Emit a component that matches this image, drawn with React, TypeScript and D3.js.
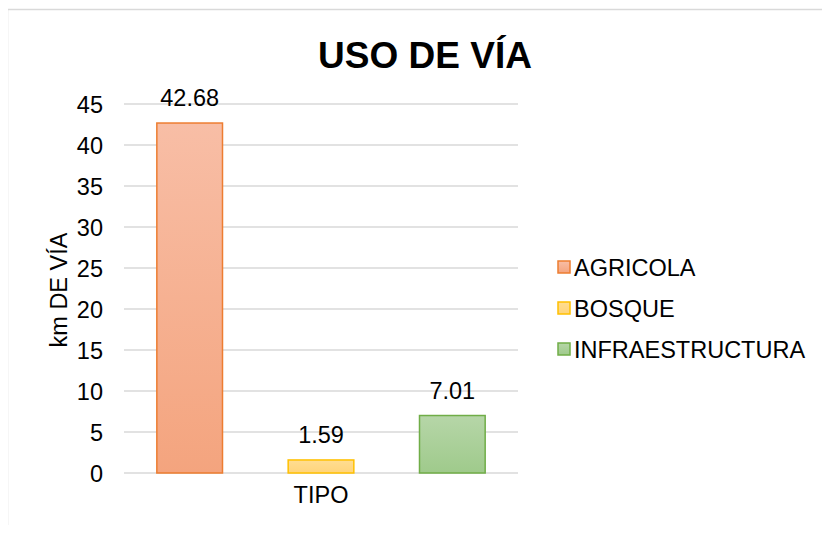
import React from "react";
import * as d3 from "d3";

const title = "USO DE VÍA";
const categories = ["AGRICOLA", "BOSQUE", "INFRAESTRUCTURA"];
const values = [42.68, 1.59, 7.01];
const yTicks = [0, 5, 10, 15, 20, 25, 30, 35, 40, 45];
const xAxisTitle = "TIPO";
const yAxisTitle = "km DE VÍA";

const fillTop = ["#F8BEA6", "#FFDD92", "#B6D6A8"];
const fillBottom = ["#F4A47E", "#FFD47A", "#9FCA8B"];
const strokes = ["#ED7D31", "#FFC000", "#70AD47"];

export default function App() {
  const W = 830, H = 533;
  const left = 124, right = 518, top = 104, bottom = 473;
  const font = "Liberation Sans, Arial, sans-serif";

  const y = d3.scaleLinear().domain([0, 45]).range([bottom, top]);
  const bw = (right - left) / 6;
  const x = d3
    .scaleBand()
    .domain(categories)
    .range([left + bw / 2, right - bw / 2])
    .paddingInner(0.5)
    .paddingOuter(0);

  return (
    <div style={{ margin: -8 }}>
      <svg width={W} height={H} style={{ display: "block", fontFamily: font }}>
        <defs>
          {categories.map((c, i) => (
            <linearGradient key={c} id={`g${i}`} x1="0" y1="0" x2="0" y2="1">
              <stop offset="0" stopColor={fillTop[i]} />
              <stop offset="1" stopColor={fillBottom[i]} />
            </linearGradient>
          ))}
        </defs>
        <rect x={0} y={0} width={W} height={H} fill="#fff" />
        <path d={`M7.5,${H} V9.5 H${W}`} fill="none" stroke="#D9D9D9" strokeWidth={1.5} />
        <text x={425} y={68} textAnchor="middle" fontSize={37} fontWeight="bold" fill="#000">{title}</text>
        {yTicks.map((t) => (
          <g key={t}>
            <line x1={left} x2={right} y1={y(t)} y2={y(t)} stroke="#D9D9D9" strokeWidth={1.5} />
            <text x={103} y={y(t) + 8.5} textAnchor="end" fontSize={23.5} fill="#000">{t}</text>
          </g>
        ))}
        {categories.map((c, i) => {
          const bx = x(c) as number;
          const w = x.bandwidth();
          const by = y(values[i]);
          return (
            <g key={c}>
              <rect x={bx} y={by} width={w} height={bottom - by} fill={`url(#g${i})`} stroke={strokes[i]} strokeWidth={1.5} />
              <text x={bx + w / 2} y={by - 17} textAnchor="middle" fontSize={23.5} fill="#000">{values[i].toFixed(2)}</text>
            </g>
          );
        })}
        <text x={321} y={503} textAnchor="middle" fontSize={23.5} fill="#000">{xAxisTitle}</text>
        <text transform={`translate(67,290) rotate(-90)`} textAnchor="middle" fontSize={23.5} fill="#000">{yAxisTitle}</text>
        {categories.map((c, i) => {
          const ly = 267 + i * 41;
          return (
            <g key={c}>
              <rect x={558} y={ly - 6} width={12} height={12} fill={`url(#g${i})`} stroke={strokes[i]} strokeWidth={1.5} />
              <text x={574} y={ly + 8.5} fontSize={23.5} fill="#000">{c}</text>
            </g>
          );
        })}
      </svg>
    </div>
  );
}
